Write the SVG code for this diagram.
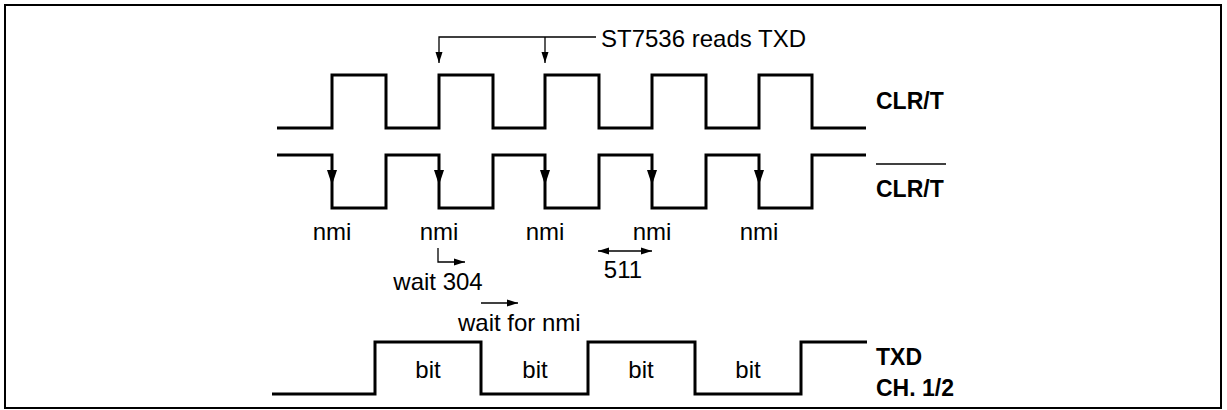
<svg xmlns="http://www.w3.org/2000/svg" width="1227" height="410" viewBox="0 0 1227 410">
<style>
.wave{fill:none;stroke:#000;stroke-width:3;stroke-linejoin:miter;stroke-linecap:butt}
.lbl{font-family:"Liberation Sans",Arial,sans-serif;font-size:24px;fill:#000}
.blbl{font-family:"Liberation Sans",Arial,sans-serif;font-size:23px;font-weight:bold;fill:#000}
.conn{fill:none;stroke:#000;stroke-width:1.3}
.head{fill:#000;stroke:none}
.frame{fill:#fff;stroke:#000;stroke-width:2}
</style>
<defs>
<marker id="arr" markerUnits="userSpaceOnUse" markerWidth="11" markerHeight="8" refX="11" refY="4" orient="auto-start-reverse" viewBox="0 0 11 8">
<path d="M0,0.5 L11,4 L0,7.5 z" fill="#000"/>
</marker>
</defs>
<rect class="frame" x="5" y="5" width="1216" height="403"/>
<g id="clrt">
<path class="wave" d="M277,128 H332 V75 H386 V128 H439 V75 H493 V128 H545 V75 H599 V128 H652 V75 H706 V128 H759 V75 H812 V128 H866"/>
<text class="blbl" x="876" y="109">CLR/T</text>
</g>
<g id="clrt-bar">
<path class="wave" d="M277,155 H332 V208 H386 V155 H439 V208 H493 V155 H545 V208 H599 V155 H652 V208 H706 V155 H759 V208 H812 V155 H866"/>
<polygon class="head" points="327,170 337,170 332,185"/>
<polygon class="head" points="434,170 444,170 439,185"/>
<polygon class="head" points="540,170 550,170 545,185"/>
<polygon class="head" points="647,170 657,170 652,185"/>
<polygon class="head" points="754,170 764,170 759,185"/>
<line x1="876" y1="164" x2="946" y2="164" stroke="#000" stroke-width="1.5"/>
<text class="blbl" x="876" y="197">CLR/T</text>
</g>
<g id="nmi-labels">
<text class="lbl" x="332" y="240" text-anchor="middle">nmi</text>
<text class="lbl" x="439" y="240" text-anchor="middle">nmi</text>
<text class="lbl" x="545" y="240" text-anchor="middle">nmi</text>
<text class="lbl" x="652" y="240" text-anchor="middle">nmi</text>
<text class="lbl" x="759" y="240" text-anchor="middle">nmi</text>
</g>
<g id="txd">
<path class="wave" d="M272,394 H375 V342 H481 V394 H588 V342 H695 V394 H801 V342 H867"/>
<text class="lbl" x="428" y="378" text-anchor="middle">bit</text>
<text class="lbl" x="535" y="378" text-anchor="middle">bit</text>
<text class="lbl" x="641" y="378" text-anchor="middle">bit</text>
<text class="lbl" x="748" y="378" text-anchor="middle">bit</text>
<text class="blbl" x="876" y="365">TXD</text>
<text class="blbl" x="876" y="396">CH. 1/2</text>
</g>
<g id="reads-label">
<text class="lbl" x="601" y="47">ST7536 reads TXD</text>
</g>
<g id="timing-labels">
<text class="lbl" x="438" y="290" text-anchor="middle">wait 304</text>
<text class="lbl" x="623" y="278" text-anchor="middle">511</text>
<text class="lbl" x="458" y="331">wait for nmi</text>
</g>
<g id="connectors">
<path class="conn" d="M596,37 H439 V63" marker-end="url(#arr)"/>
<path class="conn" d="M545,37 V63" marker-end="url(#arr)"/>
<path class="conn" d="M438,248 V262 H465" marker-end="url(#arr)"/>
<path class="conn" d="M481,303 H518" marker-end="url(#arr)"/>
<path class="conn" d="M598,251 H652" marker-start="url(#arr)" marker-end="url(#arr)"/>
</g>
</svg>
